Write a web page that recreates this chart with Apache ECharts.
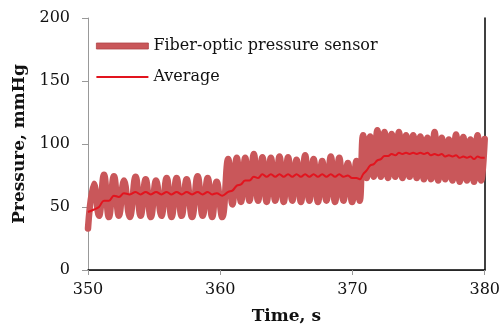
<!DOCTYPE html>
<html>
<head>
<meta charset="utf-8">
<script src="https://cdn.jsdelivr.net/npm/echarts@6/dist/echarts.min.js"></script>
<style>
  html, body { margin: 0; padding: 0; background: #fff; }
  #myChart { width: 503px; height: 330px; }
</style>
</head>
<body>
<div id="myChart"></div>
<script>
// time points (s): peaks and troughs of the sensor trace
var timeData = [
  350.00, 350.45, 350.83, 351.21, 351.58, 351.96, 352.34, 352.72, 353.16, 353.60,
  353.98, 354.36, 354.75, 355.15, 355.55, 355.95, 356.32, 356.70, 357.08, 357.46,
  357.87, 358.29, 358.67, 359.05, 359.39, 359.73, 360.15,
  360.60, 360.92, 361.25, 361.57, 361.89, 362.21, 362.54, 362.86, 363.19, 363.51,
  363.83, 364.16, 364.48, 364.80, 365.13, 365.45, 365.77, 366.10, 366.42, 366.74,
  367.06, 367.39, 367.71, 368.03, 368.36, 368.68, 369.00, 369.32, 369.65, 369.97,
  370.30, 370.55,
  370.80, 371.07, 371.34, 371.61, 371.88, 372.15, 372.42, 372.69, 372.96, 373.24,
  373.51, 373.78, 374.05, 374.32, 374.59, 374.86, 375.13, 375.40, 375.67, 375.94,
  376.21, 376.48, 376.75, 377.02, 377.29, 377.56, 377.83, 378.11, 378.38, 378.65,
  378.92, 379.19, 379.46, 379.73, 380.00
];
// fiber-optic pressure sensor (mmHg)
var sensorData = [
  33, 68.5, 43, 75.5, 42, 74.5, 43, 71, 42, 74,
  43, 72, 42, 71, 43, 73, 42, 73, 43, 72,
  42, 74.5, 43, 73, 42, 70, 42,
  88, 52, 89, 54, 89, 55, 92, 55, 89.5, 54,
  89, 55, 90, 54, 89.5, 55, 87.5, 54, 91, 55,
  88, 54, 86.5, 55, 90, 54, 89, 55, 85, 54,
  86.5, 55,
  107, 73, 106, 74, 111, 74, 109.5, 73, 108, 74,
  109.5, 73, 107, 74, 107, 73, 106, 72, 105, 72,
  109.5, 71, 105, 72, 103.5, 71, 107.5, 70, 105.5, 71,
  103.5, 70, 107, 71, 104
];
// average (mmHg)
var averageData = [
  46, 48, 50, 55, 55, 59, 58, 61, 60, 62,
  60, 62, 60, 62, 60, 62, 60, 62, 60, 62,
  60, 62, 60, 62, 60, 61, 59,
  62, 63, 67, 68, 71, 71, 74, 73, 76, 74,
  76, 74, 76, 74, 76, 74, 76, 74, 76, 74,
  76, 74, 76, 74, 76, 74, 76, 74, 75, 73,
  73, 72,
  76, 79, 83, 84, 87, 88, 90.5, 90.5, 92, 91,
  93, 92, 93, 92, 93, 92, 93, 92, 93, 91,
  92, 91, 92, 90, 91, 90, 91, 89, 90, 89,
  90, 88, 90, 89, 89
];

var xTicks = [350, 380, 10];
var yTicks = [0, 200, 50];

function pairs(xs, ys) {
  var out = [];
  for (var i = 0; i < xs.length; i++) out.push([xs[i], ys[i]]);
  return out;
}

var serif = 'DejaVu Serif';
var bandColor = '#c9575a';
var avgColor = '#e2141e';
var myChart = echarts.init(document.getElementById('myChart'));
myChart.setOption({
  animation: false,
  backgroundColor: '#fff',
  grid: { left: 88, right: 18, top: 18, bottom: 59 },
  legend: {
    orient: 'vertical',
    left: 91,
    top: 33,
    itemWidth: 52,
    itemHeight: 14,
    itemGap: 15,
    textStyle: { fontFamily: serif, fontSize: 16, color: '#111' },
    data: [
      { name: 'Fiber-optic pressure sensor', icon: 'path://M0,0M52,14M0,4H52V10H0Z',
        itemStyle: { color: bandColor, borderColor: '#b04448', borderWidth: 0.8 } },
      { name: 'Average', icon: 'path://M0,0M52,14M0,6H52V8H0Z',
        itemStyle: { color: avgColor } }
    ]
  },
  xAxis: [{
    type: 'value',
    min: xTicks[0], max: xTicks[1], interval: xTicks[2],
    name: 'Time, s',
    nameLocation: 'middle',
    nameGap: 38,
    nameTextStyle: { fontFamily: serif, fontSize: 17, fontWeight: 'bold', color: '#111' },
    axisLine: { lineStyle: { color: '#999', width: 1 } },
    axisTick: { show: true, length: 5, lineStyle: { color: '#999' } },
    axisLabel: { fontFamily: serif, fontSize: 16, color: '#111', margin: 12 },
    splitLine: { show: false }
  }, {
    type: 'value', position: 'top',
    min: xTicks[0], max: xTicks[1],
    axisLine: { show: true, lineStyle: { color: '#000', width: 1.5 } },
    axisTick: { show: false }, axisLabel: { show: false }, splitLine: { show: false }
  }],
  yAxis: [{
    type: 'value',
    min: yTicks[0], max: yTicks[1], interval: yTicks[2],
    name: 'Pressure, mmHg',
    nameLocation: 'middle',
    nameGap: 60,
    nameTextStyle: { fontFamily: serif, fontSize: 17, fontWeight: 'bold', color: '#111' },
    axisLine: { show: true, lineStyle: { color: '#999', width: 1 } },
    axisTick: { show: true, length: 6, lineStyle: { color: '#999' } },
    axisLabel: { fontFamily: serif, fontSize: 16, color: '#111', margin: 18 },
    splitLine: { show: false }
  }, {
    type: 'value', position: 'right',
    min: yTicks[0], max: yTicks[1],
    axisLine: { show: true, lineStyle: { color: '#000', width: 1.5 } },
    axisTick: { show: false }, axisLabel: { show: false }, splitLine: { show: false }
  }],
  series: [
    {
      name: 'Fiber-optic pressure sensor',
      type: 'line',
      data: pairs(timeData, sensorData),
      symbol: 'none',
      smooth: 0.45,
      lineStyle: { color: bandColor, width: 6.5, cap: 'round', join: 'round' },
      itemStyle: { color: bandColor }
    },
    {
      name: 'Average',
      type: 'line',
      data: pairs(timeData, averageData),
      symbol: 'none',
      smooth: 0.4,
      lineStyle: { color: avgColor, width: 2 },
      itemStyle: { color: avgColor }
    }
  ]
});
</script>
</body>
</html>
